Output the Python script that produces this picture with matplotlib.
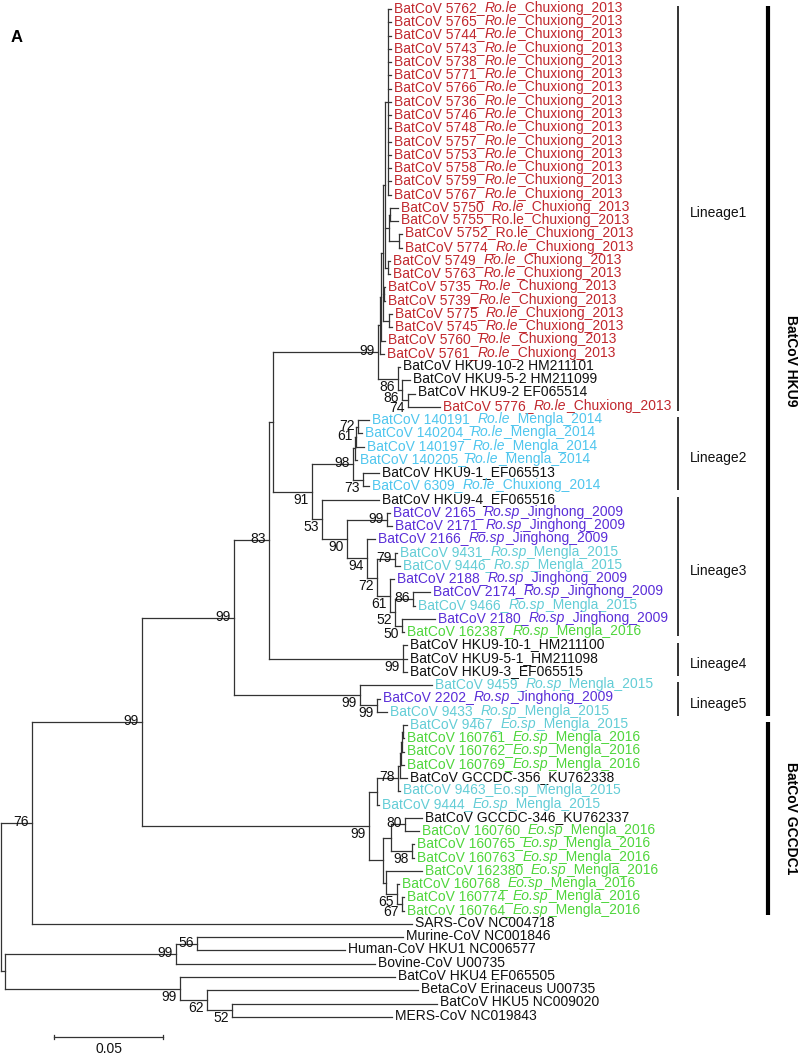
import matplotlib
matplotlib.use("Agg")
import matplotlib.pyplot as plt
from matplotlib.collections import LineCollection

plt.rcParams['font.family'] = ['Liberation Sans', 'DejaVu Sans']

# ---------------- data ----------------
# leaf labels (text between * * is italic), in tree order top to bottom
leaf_labels = [
    "BatCoV 5762_*Ro.le*_Chuxiong_2013", "BatCoV 5765_*Ro.le*_Chuxiong_2013",
    "BatCoV 5744_*Ro.le*_Chuxiong_2013", "BatCoV 5743_*Ro.le*_Chuxiong_2013",
    "BatCoV 5738_*Ro.le*_Chuxiong_2013", "BatCoV 5771_*Ro.le*_Chuxiong_2013",
    "BatCoV 5766_*Ro.le*_Chuxiong_2013", "BatCoV 5736_*Ro.le*_Chuxiong_2013",
    "BatCoV 5746_*Ro.le*_Chuxiong_2013", "BatCoV 5748_*Ro.le*_Chuxiong_2013",
    "BatCoV 5757_*Ro.le*_Chuxiong_2013", "BatCoV 5753_*Ro.le*_Chuxiong_2013",
    "BatCoV 5758_*Ro.le*_Chuxiong_2013", "BatCoV 5759_*Ro.le*_Chuxiong_2013",
    "BatCoV 5767_*Ro.le*_Chuxiong_2013", "BatCoV 5750_*Ro.le*_Chuxiong_2013",
    "BatCoV 5755_Ro.le_Chuxiong_2013", "BatCoV 5752_Ro.le_Chuxiong_2013",
    "BatCoV 5774_*Ro.le*_Chuxiong_2013", "BatCoV 5749_*Ro.le*_Chuxiong_2013",
    "BatCoV 5763_*Ro.le*_Chuxiong_2013", "BatCoV 5735_*Ro.le*_Chuxiong_2013",
    "BatCoV 5739_*Ro.le*_Chuxiong_2013", "BatCoV 5775_*Ro.le*_Chuxiong_2013",
    "BatCoV 5745_*Ro.le*_Chuxiong_2013", "BatCoV 5760_*Ro.le*_Chuxiong_2013",
    "BatCoV 5761_*Ro.le*_Chuxiong_2013", "BatCoV HKU9-10-2 HM211101",
    "BatCoV HKU9-5-2 HM211099", "BatCoV HKU9-2 EF065514",
    "BatCoV 5776_*Ro.le*_Chuxiong_2013", "BatCoV 140191_*Ro.le*_Mengla_2014",
    "BatCoV 140204_*Ro.le*_Mengla_2014", "BatCoV 140197_*Ro.le*_Mengla_2014",
    "BatCoV 140205_*Ro.le*_Mengla_2014", "BatCoV HKU9-1_EF065513",
    "BatCoV 6309_*Ro.le*_Chuxiong_2014", "BatCoV HKU9-4_EF065516",
    "BatCoV 2165_*Ro.sp*_Jinghong_2009", "BatCoV 2171_*Ro.sp*_Jinghong_2009",
    "BatCoV 2166_*Ro.sp*_Jinghong_2009", "BatCoV 9431_*Ro.sp*_Mengla_2015",
    "BatCoV 9446_*Ro.sp*_Mengla_2015", "BatCoV 2188_*Ro.sp*_Jinghong_2009",
    "BatCoV 2174_*Ro.sp*_Jinghong_2009", "BatCoV 9466_*Ro.sp*_Mengla_2015",
    "BatCoV 2180_*Ro.sp*_Jinghong_2009", "BatCoV 162387_*Ro.sp*_Mengla_2016",
    "BatCoV HKU9-10-1_HM211100", "BatCoV HKU9-5-1_HM211098",
    "BatCoV HKU9-3_EF065515", "BatCoV 9459_*Ro.sp*_Mengla_2015",
    "BatCoV 2202_*Ro.sp*_Jinghong_2009", "BatCoV 9433_*Ro.sp*_Mengla_2015",
    "BatCoV 9467_*Eo.sp*_Mengla_2015", "BatCoV 160761_*Eo.sp*_Mengla_2016",
    "BatCoV 160762_*Eo.sp*_Mengla_2016", "BatCoV 160769_*Eo.sp*_Mengla_2016",
    "BatCoV GCCDC-356_KU762338", "BatCoV 9463_Eo.sp_Mengla_2015",
    "BatCoV 9444_*Eo.sp*_Mengla_2015", "BatCoV GCCDC-346_KU762337",
    "BatCoV 160760_*Eo.sp*_Mengla_2016", "BatCoV 160765_*Eo.sp*_Mengla_2016",
    "BatCoV 160763_*Eo.sp*_Mengla_2016", "BatCoV 162380_*Eo.sp*_Mengla_2016",
    "BatCoV 160768_*Eo.sp*_Mengla_2016", "BatCoV 160774_*Eo.sp*_Mengla_2016",
    "BatCoV 160764_*Eo.sp*_Mengla_2016", "SARS-CoV NC004718",
    "Murine-CoV NC001846", "Human-CoV HKU1 NC006577", "Bovine-CoV U00735",
    "BatCoV HKU4 EF065505", "BetaCoV Erinaceus U00735",
    "BatCoV HKU5 NC009020", "MERS-CoV NC019843",
]

# sampling group of each leaf (sets the label colour)
leaf_groups = (["CX13"] * 27 + ["ref"] * 3 + ["CX13"] + ["ML14"] * 4 +
               ["ref", "CX14", "ref", "JH09", "JH09", "JH09", "ML15", "ML15",
                "JH09", "JH09", "ML15", "JH09", "ML16", "ref", "ref", "ref",
                "ML15", "JH09", "ML15", "ML15", "ML16", "ML16", "ML16", "ref",
                "ML15", "ML15", "ref"] +
               ["ML16"] * 7 + ["ref"] * 8)

# tree topology with branch lengths (substitutions/site) and bootstrap values
clade_lineage1 = (
    "((((("
    "(L0:0.00138,L1:0.00138,L2:0.00138,L3:0.00138,L4:0.00138,L5:0.00138,"
    "L6:0.00138,L7:0.00138,L8:0.00138,L9:0.00138,L10:0.00138,L11:0.00138,"
    "L12:0.00138,L13:0.00138,L14:0.00138):0.00138,"
    "((L15:0.00367,L16:0.00367):0.00046,(L17:0.00138,L18:0.00138):0.00459):0.00183,"
    "(L19:0.00092,L20:0.00092):0.00138):0.00092,"
    "(L21:0.00046,L22:0.00046):0.00046,"
    "(L23:0.00138,L24:0.00138):0.00275):0.00092,"
    "L25:0.00183):0.00046,"
    "L26:0.00183):0.00092,"
    "(L27:0.00092,(L28:0.00367,(L29:0.00321,L30:0.01468)74:0.00275)86:0.00183)86:0.00917"
    ")99:0.04817"
)
clade_lineage2 = (
    "((((L31:0.00505,L32:0.00183)72:0.00092,L33:0.00367)61:0.00046,L34:0.00092):0.00092,"
    "(L35:0.00734,L36:0.00275)73:0.00459)98:0.01881"
)
clade_lineage3 = (
    "(L37:0.02615,((L38:0.00138,L39:0.00229)99:0.01835,"
    "(L40:0.00367,((L41:0.00092,L42:0.00229)79:0.00826,"
    "(L43:0.00183,((L44:0.00780,L45:0.00092)86:0.00826,"
    "(L46:0.01514,L47:0.00092)50:0.00321)52:0.00229)61:0.00596)72:0.00459)94:0.00917"
    ")90:0.01147)53:0.00459"
)
clade_lineage4 = "(L48:0.00183,L49:0.00183,L50:0.00183)99:0.06147"
clade_lineage5 = "(L51:0.03303,(L52:0.00138,L53:0.00459)99:0.00780)99:0.05780"
clade_gccdc1 = (
    "(((((((L54:0.00183,L55:0.00046):0.00046,L56:0.00092):0.00046,L57:0.00138):0.00046,"
    "L58:0.00321):0.00092,L59:0.00092)78:0.00963,L60:0.00092):0.00367,"
    "(((L61:0.00780,L62:0.00642)80:0.00642,(L63:0.00092,L64:0.00092)98:0.00963):0.00367,"
    "(L65:0.01651,(L66:0.00092,(L67:0.00092,L68:0.00092)67:0.00229)65:0.00505):0.00138"
    "):0.00642)99:0.10413"
)
clade_outgroup = (
    "(((L70:0.09450,L71:0.06789)56:0.00963,L72:0.09128)99:0.07844,"
    "(L73:0.09862,(L74:0.09679,(L75:0.09404,L76:0.07339)52:0.01147)62:0.01239)99:0.08028"
    "):0.00183"
)
TREE = (
    "((((((" + clade_lineage1 + ",(" + clade_lineage2 + "," + clade_lineage3 +
    ")91:0.01789):0.00183," + clade_lineage4 + ")83:0.01606," + clade_lineage5 +
    ")99:0.04220," + clade_gccdc1 + ")99:0.05046,L69:0.17431)76:0.01422," +
    clade_outgroup + ");"
)

lineages = [("Lineage1", 0, 30), ("Lineage2", 31, 36), ("Lineage3", 37, 47),
            ("Lineage4", 48, 50), ("Lineage5", 51, 53)]
virus_groups = [("BatCoV HKU9", 0, 53), ("BatCoV GCCDC1", 54, 68)]
scale_length = 0.05

group_colors = {"CX13": "#c1272d", "CX14": "#4fc6ee", "ML14": "#4fc6ee",
                "ML15": "#63cdd6", "JH09": "#5a2ed8", "ML16": "#4fd63c",
                "ref": "#111111"}

# ---------------- parsing / layout ----------------
if TREE.count("(") != TREE.count(")"):
    raise ValueError("unbalanced tree string")


def parse_newick(s):
    pos = 0

    def node(depth):
        nonlocal pos
        if depth > 200:
            raise ValueError("too deep")
        children = []
        if s[pos] == '(':
            pos += 1
            while True:
                children.append(node(depth + 1))
                if s[pos] == ',':
                    pos += 1
                    continue
                if s[pos] == ')':
                    pos += 1
                    break
                raise ValueError("bad char %r at %d" % (s[pos], pos))
        start = pos
        while s[pos] not in ':,();':
            pos += 1
        label = s[start:pos]
        length = 0.0
        if s[pos] == ':':
            pos += 1
            start = pos
            while s[pos] not in ',();':
                pos += 1
            length = float(s[start:pos])
        return {"label": label, "len": length, "children": children}

    return node(0)


root = parse_newick(TREE)


def layout(n, x0):
    n["x"] = x0 + n["len"]
    if n["children"]:
        for c in n["children"]:
            layout(c, n["x"])
        n["y"] = (n["children"][0]["y"] + n["children"][-1]["y"]) / 2.0
    else:
        n["y"] = float(int(n["label"][1:]))


layout(root, 0.0)

# ---------------- figure ----------------
W, H = 798, 1057
PXU = 2180.0          # pixels per unit of distance
Y0, DY = 9.0, 13.26   # first leaf pixel row, leaf spacing
FS = 10.0

fig = plt.figure(figsize=(W / 100, H / 100), dpi=100)
ax = fig.add_axes([0, 0, 1, 1])
ax.set_xlim(-1 / PXU, (W - 1) / PXU)
ax.set_ylim((H - Y0) / DY, -Y0 / DY)
ax.axis('off')


def px_x(p):
    return (p - 1) / PXU


def px_y(p):
    return (p - Y0) / DY


segs = []
tree_color = "#333333"


def draw(n, first_child):
    if n["children"]:
        cs = n["children"]
        segs.append([(n["x"], cs[0]["y"]), (n["x"], cs[-1]["y"])])
        for i, c in enumerate(cs):
            segs.append([(n["x"], c["y"]), (c["x"], c["y"])])
            draw(c, i == 0)
        if n["label"]:
            dy = -1.0 if first_child else 8.0
            ax.text(n["x"] - 3 / PXU, n["y"] + dy / DY, n["label"], ha='right',
                    va='center', fontsize=FS, color='#111111')
    else:
        idx = int(n["label"][1:])
        label = leaf_labels[idx]
        color = group_colors[leaf_groups[idx]]
        pieces = label.split('*')
        t = ax.text(n["x"] + 3 / PXU, n["y"] - 0.08, pieces[0], ha='left',
                    va='center', fontsize=FS, color=color)
        for k, p in enumerate(pieces[1:], start=1):
            if not p:
                continue
            t = ax.annotate(p, xy=(1, 0), xycoords=t, ha='left', va='bottom',
                            fontsize=FS, color=color,
                            style='italic' if k % 2 == 1 else 'normal')


draw(root, True)
ax.add_collection(LineCollection(segs, colors=tree_color, linewidths=0.9,
                                 capstyle='projecting'))

# lineage bars
for name, a, b in lineages:
    y0, y1 = a - 0.22, b + 0.3
    ax.plot([px_x(678)] * 2, [y0, y1], color='#111111', lw=1.2,
            solid_capstyle='butt')
    ax.text(px_x(690), (y0 + y1) / 2 + 0.35, name, ha='left', va='center',
            fontsize=FS, color='#111111')

# virus group bars
for name, a, b in virus_groups:
    y0, y1 = a - 0.22, b + 0.3
    ax.plot([px_x(768)] * 2, [y0, y1], color='#000000', lw=3.0,
            solid_capstyle='butt')
    ax.text(px_x(791), (y0 + y1) / 2, name, ha='center', va='center',
            rotation=270, fontsize=10, fontweight='bold', color='#000000')

# scale bar
sx0 = px_x(54)
sy = px_y(1037)
ax.plot([sx0, sx0 + scale_length], [sy, sy], color=tree_color, lw=0.9)
for xx in (sx0, sx0 + scale_length):
    ax.plot([xx, xx], [sy - 2.2 / DY, sy + 2.2 / DY], color=tree_color, lw=0.9)
ax.text(sx0 + scale_length / 2, px_y(1049), "0.05", ha='center', va='center',
        fontsize=FS, color='#111111')

# panel letter
ax.text(px_x(17), px_y(38), "A", ha='center', va='center', fontsize=12,
        fontweight='bold', color='#000000')

fig.savefig("out.png", dpi=100)
